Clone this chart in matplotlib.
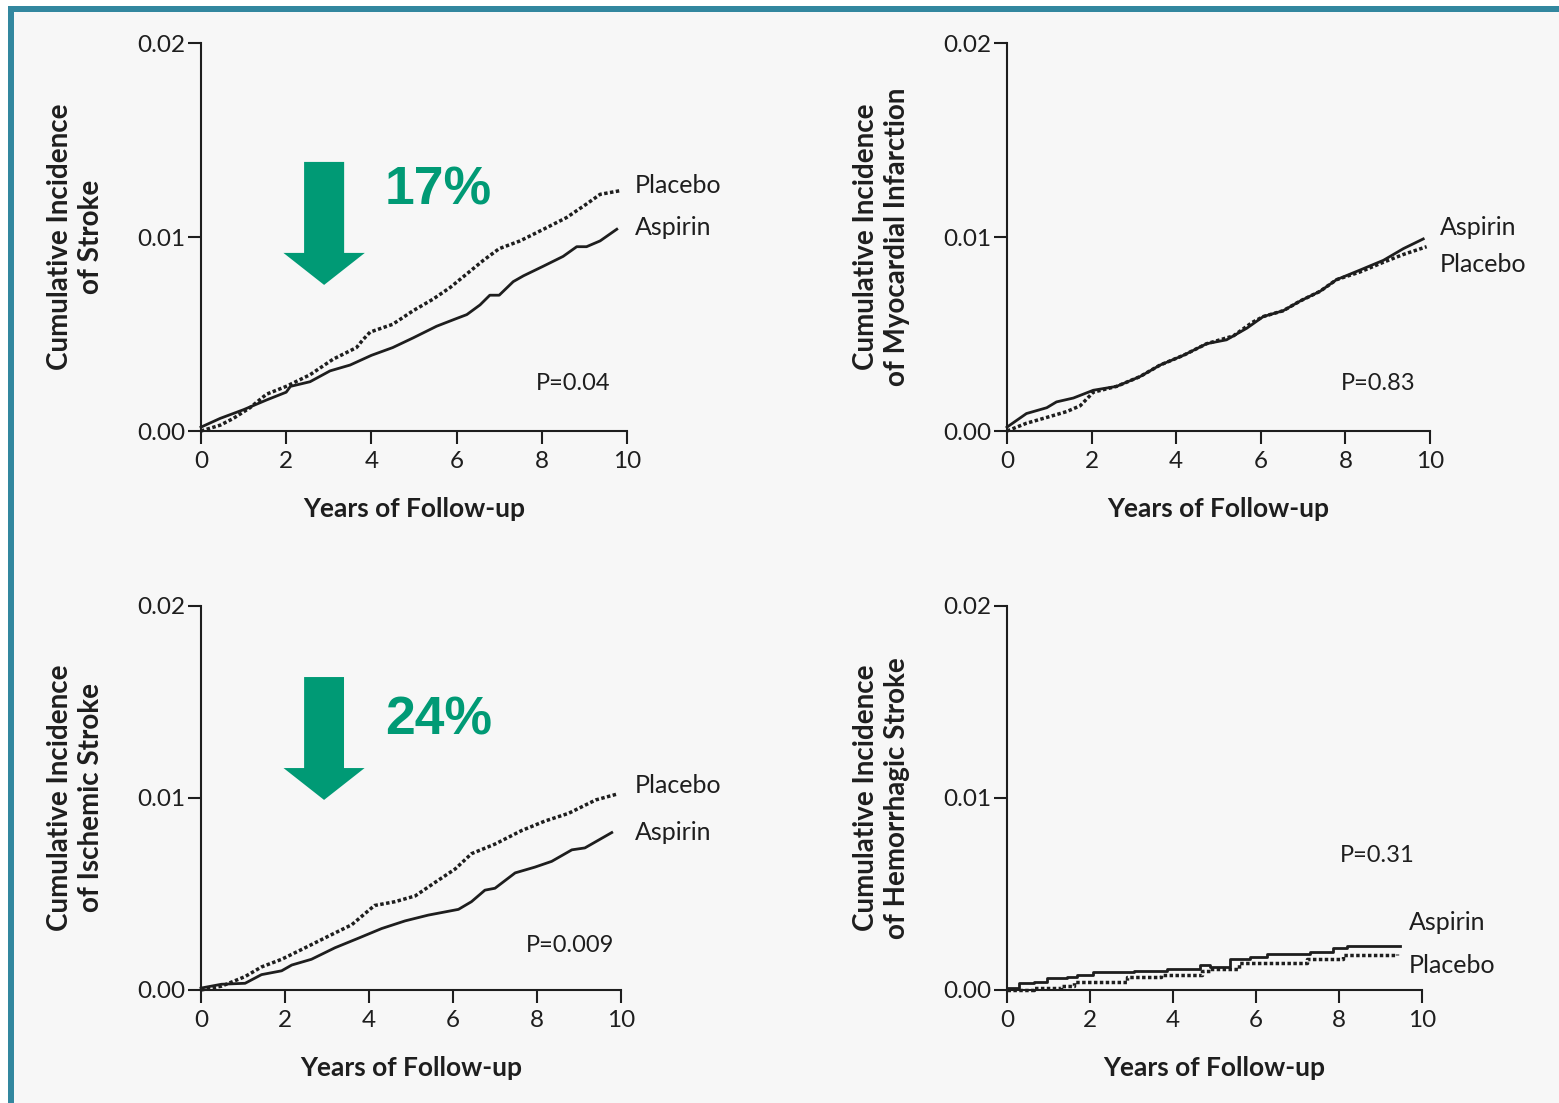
import matplotlib
matplotlib.use("Agg")
import matplotlib.pyplot as plt
from matplotlib import font_manager
from matplotlib.patches import Rectangle, FancyArrow

W, H = 1559, 1103
TEAL = "#32879f"
GREEN = "#009a75"
BG = "#f7f7f7"
INK = "#1e1e1e"

names = {f.name for f in font_manager.fontManager.ttflist}
NARROW = "Liberation Sans Narrow" if "Liberation Sans Narrow" in names else "Lato"
plt.rcParams["font.family"] = [NARROW, "DejaVu Sans"]

# ---- data (years, cumulative incidence) ----
stroke_asp_x = [0, 0.45, 1.0, 1.54, 2.0, 2.1, 2.56, 3.03, 3.5, 4.0, 4.5, 4.98, 5.53, 6.0, 6.24,
                6.55, 6.78, 7.0, 7.33, 7.57, 8.04, 8.5, 8.82, 9.05, 9.37, 9.76]
stroke_asp_y = [0.0002, 0.00065, 0.0011, 0.0016, 0.0020, 0.0023, 0.00254, 0.0031, 0.0034, 0.0039,
                0.0043, 0.0048, 0.0054, 0.0058, 0.0060, 0.0065, 0.0070, 0.0070, 0.0077, 0.0080,
                0.0085, 0.0090, 0.0095, 0.0095, 0.0098, 0.0104]
stroke_pla_x = [0, 0.45, 0.76, 1.15, 1.54, 2.0, 2.56, 3.1, 3.65, 3.8, 3.97, 4.5, 4.98, 5.45, 5.85,
                6.24, 6.63, 7.0, 7.49, 8.04, 8.58, 9.05, 9.37, 9.87]
stroke_pla_y = [0.0, 0.0003, 0.00065, 0.0012, 0.0019, 0.0023, 0.0029, 0.0037, 0.0043, 0.0047,
                0.0051, 0.0055, 0.0062, 0.0068, 0.0074, 0.0081, 0.0088, 0.0094, 0.0098, 0.0104,
                0.0110, 0.0117, 0.0122, 0.0124]

mi_asp_x = [0, 0.46, 0.94, 1.17, 1.57, 2.04, 2.59, 3.14, 3.62, 4.17, 4.72, 5.19, 5.67, 6.06, 6.53,
            6.93, 7.4, 7.79, 8.35, 8.9, 9.37, 9.84]
mi_asp_y = [0.0002, 0.0009, 0.0012, 0.0015, 0.0017, 0.0021, 0.0023, 0.0028, 0.0034, 0.0039, 0.0045,
            0.0047, 0.0053, 0.0059, 0.0062, 0.0067, 0.0072, 0.0078, 0.0083, 0.0088, 0.0094, 0.0099]
mi_pla_x = [0, 0.46, 0.94, 1.41, 1.73, 2.04, 2.59, 3.14, 3.62, 4.17, 4.72, 5.35, 5.8, 6.06, 6.53,
            6.93, 7.4, 7.79, 8.35, 8.9, 9.37, 9.92]
mi_pla_y = [0.0, 0.0004, 0.0007, 0.0010, 0.0013, 0.0020, 0.0023, 0.0028, 0.0034, 0.0039, 0.0045,
            0.0049, 0.0056, 0.0059, 0.0062, 0.0067, 0.0072, 0.0078, 0.0082, 0.0087, 0.0091, 0.0095]

isch_asp_x = [0, 0.49, 1.05, 1.44, 1.92, 2.16, 2.63, 3.19, 3.75, 4.3, 4.86, 5.41, 6.13, 6.44, 6.76,
              7.0, 7.48, 7.95, 8.35, 8.83, 9.14, 9.78]
isch_asp_y = [0.0001, 0.0003, 0.00035, 0.0008, 0.0010, 0.0013, 0.0016, 0.0022, 0.0027, 0.0032,
              0.0036, 0.0039, 0.0042, 0.0046, 0.0052, 0.0053, 0.0061, 0.0064, 0.0067, 0.0073,
              0.0074, 0.0082]
isch_pla_x = [0, 0.49, 1.05, 1.44, 1.92, 2.48, 3.03, 3.59, 4.13, 4.62, 5.1, 5.57, 6.05, 6.44, 7.0,
              7.63, 8.19, 8.75, 9.4, 9.9]
isch_pla_y = [0.0, 0.0002, 0.0007, 0.0012, 0.0016, 0.0022, 0.0028, 0.0034, 0.0044, 0.0046, 0.0049,
              0.0056, 0.0063, 0.0071, 0.0076, 0.0083, 0.0088, 0.0092, 0.0099, 0.0102]

hem_asp_x = [0, 0.3, 0.64, 0.96, 1.44, 1.68, 2.08, 3.05, 3.86, 4.65, 4.89, 5.37, 5.86, 6.26,
             7.22, 7.3, 7.86, 8.19, 9.47]
hem_asp_y = [0.0001, 0.00035, 0.0004, 0.0006, 0.0007, 0.0008, 0.00095, 0.0010, 0.0011, 0.0013,
             0.0012, 0.0016, 0.0017, 0.0019, 0.0019, 0.0020, 0.0022, 0.0023, 0.0023]
hem_pla_x = [0, 0.64, 1.29, 1.61, 2.26, 2.9, 3.72, 4.69, 4.89, 5.6, 6.48, 7.22, 8.1, 9.4]
hem_pla_y = [0.0, 0.0001, 0.0002, 0.0004, 0.0004, 0.0007, 0.0008, 0.0010, 0.0011, 0.0014, 0.0014,
             0.0016, 0.0018, 0.0019]

ylabels = ["Cumulative Incidence\nof Stroke",
           "Cumulative Incidence\nof Myocardial Infarction",
           "Cumulative Incidence\nof Ischemic Stroke",
           "Cumulative Incidence\nof Hemorrhagic Stroke"]
pvalues = ["P=0.04", "P=0.83", "P=0.009", "P=0.31"]
reductions = ["17%", None, "24%", None]

fig = plt.figure(figsize=(W / 100, H / 100), dpi=100, facecolor="white")

# framed background
fig.patches.append(Rectangle((8 / W, 0), 1, 1 - 6 / H, transform=fig.transFigure,
                             facecolor=TEAL, edgecolor="none", zorder=-2))
fig.patches.append(Rectangle((14 / W, 0), 1, 1 - 12 / H, transform=fig.transFigure,
                             facecolor=BG, edgecolor="none", zorder=-1))


def px_axes(left, right, top, bottom):
    return fig.add_axes([left / W, 1 - bottom / H, (right - left) / W, (bottom - top) / H])


axes = [px_axes(201, 627, 43, 431), px_axes(1007, 1430, 43, 431),
        px_axes(201, 621, 606, 990), px_axes(1007, 1422, 606, 990)]

curves = [(stroke_asp_x, stroke_asp_y, stroke_pla_x, stroke_pla_y),
          (mi_asp_x, mi_asp_y, mi_pla_x, mi_pla_y),
          (isch_asp_x, isch_asp_y, isch_pla_x, isch_pla_y),
          (hem_asp_x, hem_asp_y, hem_pla_x, hem_pla_y)]

# label positions: (x, y_placebo, y_aspirin), P-value (x, y)
name_pos = [(10.19, 0.01263, 0.0105), (10.24, 0.00856, 0.0105),
            (10.33, 0.01063, 0.00818), (9.69, 0.0013, 0.00349)]
p_pos = [(9.6, 0.00247), (9.65, 0.00247), (9.83, 0.0023), (9.83, 0.0070)]

for i, ax in enumerate(axes):
    ax.set_facecolor("none")
    ax.set_xlim(0, 10)
    ax.set_ylim(0, 0.02)
    for s in ["top", "right"]:
        ax.spines[s].set_visible(False)
    for s in ["left", "bottom"]:
        ax.spines[s].set_linewidth(1.5)
        ax.spines[s].set_color(INK)
    ax.set_xticks([0, 2, 4, 6, 8, 10])
    ax.set_yticks([0, 0.01, 0.02])
    ax.set_yticklabels(["0.00", "0.01", "0.02"])
    ax.tick_params(axis="both", direction="out", length=9.5, width=1.5, color=INK,
                   labelsize=17.5, labelcolor=INK)
    ax.tick_params(axis="y", pad=2)
    ax.tick_params(axis="x", pad=5)

    ax_x, ax_y, pl_x, pl_y = curves[i]
    ds = "steps-post" if i == 3 else "default"
    ax.plot(pl_x, pl_y, color=INK, lw=2.5, linestyle=(0, (1, 0.7)), drawstyle=ds, clip_on=False)
    ax.plot(ax_x, ax_y, color=INK, lw=2.0, drawstyle=ds, clip_on=False)

    nx, ny_pla, ny_asp = name_pos[i]
    ax.text(nx, ny_pla, "Placebo", fontsize=18, color=INK, va="center", ha="left")
    ax.text(nx, ny_asp, "Aspirin", fontsize=18, color=INK, va="center", ha="left")
    ax.text(p_pos[i][0], p_pos[i][1], pvalues[i], fontsize=17, color=INK, va="center", ha="right")

    ax.set_xlabel("Years of Follow-up", fontsize=19, fontweight="bold", color=INK, labelpad=18)
    ax.set_ylabel(ylabels[i], fontsize=20, fontweight="bold", color=INK, labelpad=24,
                  family=["Lato", "DejaVu Sans"], linespacing=1.2)

# reduction arrows
arrow_geo = {0: (2.89, 0.01387, 0.00753, 0.94, 1.91, 0.00165, 4.32, 0.01242),
             2: (2.93, 0.0163, 0.0099, 0.95, 1.93, 0.00166, 4.38, 0.01406)}
for i, (xc, top, tip, w, hw, hl, tx, ty) in arrow_geo.items():
    ax = axes[i]
    ax.add_patch(FancyArrow(xc, top, 0, tip - top, width=w, head_width=hw, head_length=hl,
                            length_includes_head=True, color=GREEN, lw=0))
    ax.text(tx, ty, reductions[i], fontsize=38.5, fontweight="bold", color=GREEN,
            family=["Liberation Sans", "DejaVu Sans"], va="center", ha="left")

fig.savefig("out.png", dpi=100, facecolor="white")
